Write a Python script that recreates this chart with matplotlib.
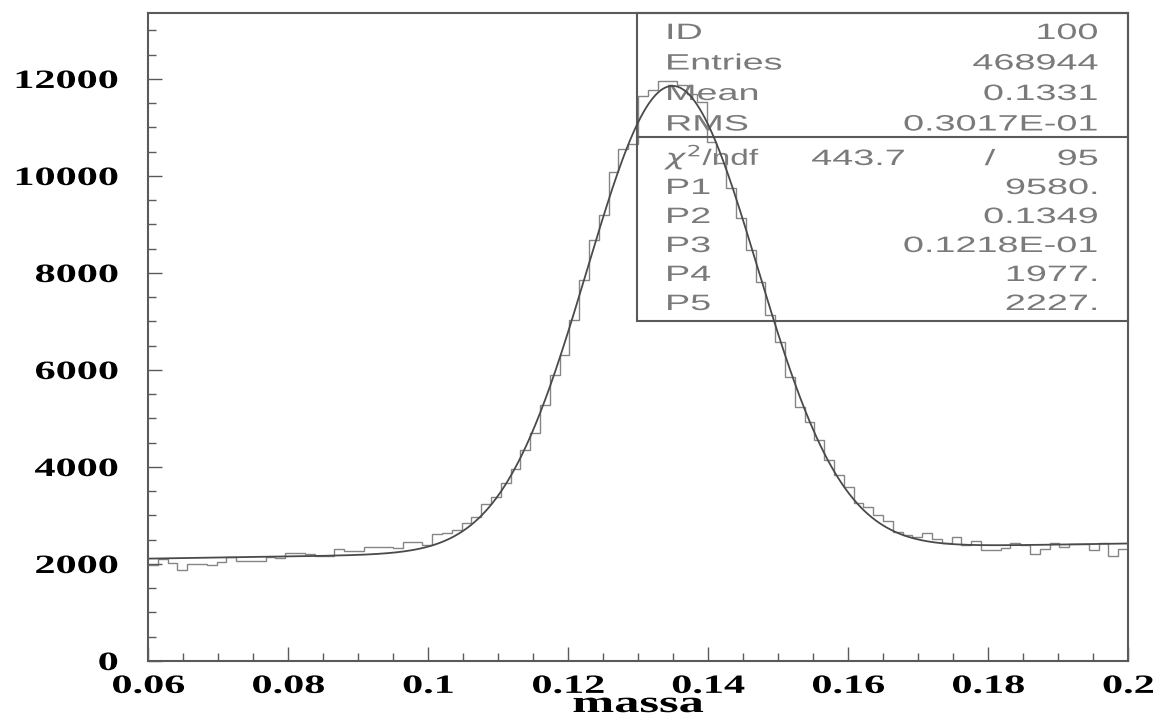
import numpy as np
import matplotlib
matplotlib.use('Agg')
import matplotlib.pyplot as plt
from matplotlib.patheffects import AbstractPathEffect
from matplotlib.transforms import Affine2D
from matplotlib.patches import Rectangle
from matplotlib.lines import Line2D

# ---------------- data ----------------
x_range = (0.06, 0.2)
n_bins = 100
counts = [1980, 2100, 2020, 1876, 2000, 2000, 1970, 2050, 2150, 2062,
          2062, 2062, 2150, 2120, 2233, 2233, 2200, 2170, 2170, 2309,
          2270, 2270, 2357, 2357, 2357, 2320, 2460, 2460, 2390, 2610,
          2640, 2700, 2838, 2976, 3237, 3388, 3670, 3952, 4350, 4694,
          5278, 5897, 6309, 7031, 7856, 8680, 9196, 10089, 10560, 10650,
          11650, 11770, 11965, 11965, 11876, 11700, 11532, 10708, 10262, 9746,
          9127, 8474, 7821, 7134, 6584, 5862, 5244, 4935, 4557, 4144,
          3835, 3594, 3251, 3182, 3010, 2893, 2666, 2600, 2560, 2633,
          2509, 2440, 2550, 2392, 2481, 2289, 2289, 2337, 2426, 2392,
          2206, 2303, 2426, 2357, 2412, 2412, 2289, 2426, 2172, 2309]
# fit: gaussian (P1,P2,P3) + linear background (P4,P5)
P1, P2, P3, P4, P5 = 9580., 0.1349, 0.01218, 1977., 2227.

stats_labels = ['ID', 'Entries', 'Mean', 'RMS']
stats_values = ['100', '468944', '0.1331', '0.3017E-01']
chi2_label = r'$\chi^2$/ndf'
chi2_value = '443.7'
ndf_value = '95'
fit_labels = ['P1', 'P2', 'P3', 'P4', 'P5']
fit_values = ['9580.', '0.1349', '0.1218E-01', '1977.', '2227.']

xticks = [0.06, 0.08, 0.10, 0.12, 0.14, 0.16, 0.18, 0.20]
xtick_labels = ['0.06', '0.08', '0.1', '0.12', '0.14', '0.16', '0.18', '0.2']
yticks = [0, 2000, 4000, 6000, 8000, 10000, 12000]
ytick_labels = ['0', '2000', '4000', '6000', '8000', '10000', '12000']
xlabel = 'massa'
y_max = 13360


# ---------------- helpers ----------------
class Stretch(AbstractPathEffect):
    """Stretch rendered text horizontally (the original uses a wide font)."""
    def __init__(self, sx, anchor='left'):
        super().__init__()
        self.sx = sx
        self.anchor = anchor

    def draw_path(self, renderer, gc, tpath, affine, rgbFace=None):
        v = affine.transform(tpath.vertices)
        v = v[np.isfinite(v).all(axis=1)]
        if len(v) == 0:
            return
        xmin, xmax = v[:, 0].min(), v[:, 0].max()
        x0 = {'left': xmin, 'right': xmax, 'center': 0.5 * (xmin + xmax)}[self.anchor]
        tr = affine + Affine2D().translate(-x0, 0).scale(self.sx, 1).translate(x0, 0)
        renderer.draw_path(gc, tpath, tr, rgbFace)


W, H = 1160, 719
L, R, T, B = 148, 1128, 13, 661

fig = plt.figure(figsize=(W / 100, H / 100), dpi=100)
ax = fig.add_axes([L / W, 1 - B / H, (R - L) / W, (B - T) / H])

edges = np.linspace(x_range[0], x_range[1], n_bins + 1)
ax.stairs(counts, edges, baseline=None, color='#858585', lw=1.0)

xf = np.linspace(x_range[0], x_range[1], 800)
yf = P1 * np.exp(-0.5 * ((xf - P2) / P3) ** 2) + P4 + P5 * xf
ax.plot(xf, yf, color='#4a4a4a', lw=1.3)

ax.set_xlim(*x_range)
ax.set_ylim(0, y_max)

frame_col = '#5a5a5a'
for s in ax.spines.values():
    s.set_color(frame_col)
    s.set_linewidth(1.5)

ax.set_xticks(xticks, xtick_labels)
ax.set_xticks(np.arange(0.06, 0.2001, 0.005), minor=True)
ax.set_yticks(yticks, ytick_labels)
ax.set_yticks(np.arange(0, 13001, 500), minor=True)
ax.tick_params(which='both', direction='in', color=frame_col, width=1.0,
               top=False, right=False)
ax.tick_params(which='major', length=10)
ax.tick_params(which='minor', length=6)
ax.tick_params(axis='y', pad=21.5)
ax.tick_params(axis='x', pad=10)

tick_font = dict(family='Liberation Serif', weight='bold', size=19)
for lab in ax.get_xticklabels() + ax.get_yticklabels():
    lab.set_fontfamily(tick_font['family'])
    lab.set_fontweight(tick_font['weight'])
    lab.set_fontsize(tick_font['size'])
    lab.set_color('black')

fig.text((L + R) / 2 / W, 1 - 719 / H, xlabel, ha='center', va='bottom',
         fontfamily='Liberation Serif', fontweight='bold', fontsize=22,
         path_effects=[Stretch(1.65, 'center')])

# ---------------- stats box ----------------
def fx(px):
    return (px - L) / (R - L)

def fy(py):
    return (B - py) / (B - T)

box_left, box_div, box_bottom = 637, 137, 321
box_col = '#5a5a5a'
ax.add_patch(Rectangle((fx(box_left), fy(box_bottom)), 1 - fx(box_left),
                       1 - fy(box_bottom), transform=ax.transAxes,
                       fill=False, edgecolor=box_col, lw=1.5, clip_on=False,
                       zorder=1))
ax.add_line(Line2D([fx(box_left), 1], [fy(box_div), fy(box_div)],
                   transform=ax.transAxes, color=box_col, lw=1.5, zorder=1))

txt_col = '#7a7a7a'
txt_kw = dict(transform=ax.transAxes, fontfamily='Liberation Sans', fontsize=16,
              color=txt_col, va='baseline', zorder=0)
lab_x, val_x = 665, 1098
top_base = [39, 69.5, 100, 130.5]
for lab, val, yb in zip(stats_labels, stats_values, top_base):
    ax.text(fx(lab_x), fy(yb), lab, ha='left', path_effects=[Stretch(1.7, 'left')], **txt_kw)
    ax.text(fx(val_x), fy(yb), val, ha='right', path_effects=[Stretch(1.7, 'right')], **txt_kw)

bot_base = [165, 194, 223, 252, 281, 310]
ax.text(fx(lab_x), fy(bot_base[0]), chi2_label, ha='left',
        path_effects=[Stretch(1.5, 'left')], **txt_kw)
ax.text(fx(905), fy(bot_base[0]), chi2_value, ha='right',
        path_effects=[Stretch(1.7, 'right')], **txt_kw)
ax.text(fx(990), fy(bot_base[0]), '/', ha='center',
        path_effects=[Stretch(1.7, 'center')], **txt_kw)
ax.text(fx(val_x), fy(bot_base[0]), ndf_value, ha='right',
        path_effects=[Stretch(1.7, 'right')], **txt_kw)
for lab, val, yb in zip(fit_labels, fit_values, bot_base[1:]):
    ax.text(fx(lab_x), fy(yb), lab, ha='left', path_effects=[Stretch(1.7, 'left')], **txt_kw)
    ax.text(fx(val_x), fy(yb), val, ha='right', path_effects=[Stretch(1.7, 'right')], **txt_kw)

# stretch tick labels (after ticks exist)
fig.canvas.draw()
for lab in ax.get_yticklabels():
    lab.set_path_effects([Stretch(1.6, 'right')])
for lab in ax.get_xticklabels():
    lab.set_path_effects([Stretch(1.6, 'center')])

fig.savefig('out.png', dpi=100)
